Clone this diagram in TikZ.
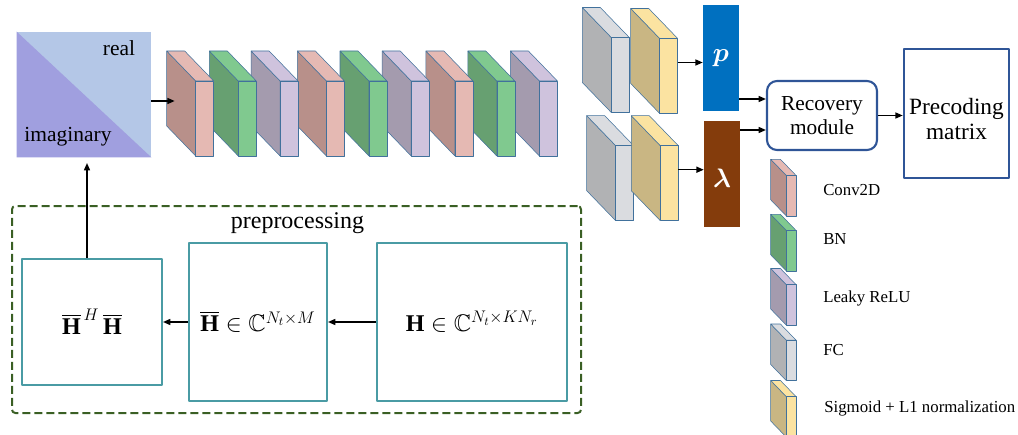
\RequirePackage{fix-cm}
\documentclass[tikz,border=0pt]{standalone}
\usepackage{amsmath,amssymb,bm}
\usepackage{fontspec}
\setmainfont{Liberation Serif}
\usetikzlibrary{arrows.meta,calc}
\definecolor{edge}{HTML}{41719C}
\definecolor{convS}{HTML}{B8908A}
\definecolor{convF}{HTML}{E5B9B3}
\definecolor{bnS}{HTML}{67A071}
\definecolor{bnF}{HTML}{80C98F}
\definecolor{reluS}{HTML}{A49BAE}
\definecolor{reluF}{HTML}{CFC3DD}
\definecolor{fcS}{HTML}{B1B2B4}
\definecolor{fcF}{HTML}{DADCE0}
\definecolor{sigS}{HTML}{C9B683}
\definecolor{sigF}{HTML}{FBE3A1}
\definecolor{realC}{HTML}{B4C7E7}
\definecolor{imagC}{HTML}{A09FDF}
\definecolor{tealC}{HTML}{4A9BA4}
\definecolor{dashC}{HTML}{3A5F24}
\definecolor{navyC}{HTML}{2F5597}
\definecolor{pC}{HTML}{0070C0}
\definecolor{lC}{HTML}{843C0C}
\newcommand{\slab}[6]{%
\begin{scope}[shift={(#2,#3)},scale=#6]
\filldraw[draw=edge,fill=#4] (0,0) -- (29,30) -- (29,105) -- (0,75) -- cycle;
\filldraw[draw=edge,fill=#5] (0,0) -- (18,0) -- (47,30) -- (29,30) -- cycle;
\filldraw[draw=edge,fill=#5] (29,30) rectangle (47,105);
\coordinate (#1-in) at (8,50);
\coordinate (#1-out) at (47,54);
\end{scope}}
\tikzset{
 arr/.style={line width=1.1pt,-{Triangle[length=5.5pt,width=4.5pt]}},
 tealbox/.style={draw=tealC,line width=1.5pt,inner sep=0pt},
 mathtxt/.style={font=\fontsize{18}{20}\selectfont},
 legtxt/.style={anchor=west,font=\fontsize{12.6}{14}\selectfont,inner sep=0pt},
 navybox/.style={draw=navyC,line width=1.6pt,align=center,inner sep=0pt},
 outbox/.style={inner sep=0pt,text=white,font=\fontsize{20}{22}\selectfont}
}
\begin{document}
\begin{tikzpicture}[x=0.75pt,y=-0.75pt,line join=round]
\useasboundingbox (0,0) rectangle (1018,435);
% input square
\node[inner sep=0pt,minimum width=100.5pt,minimum height=93.75pt,fill=realC] (sq) at (84,94.5) {};
\fill[imagC] (sq.north west) -- (sq.south east) -- (sq.south west) -- cycle;
\node[font=\fontsize{16.1}{18}\selectfont] (real) at (119,48) {real};
\node[font=\fontsize{16.1}{18}\selectfont] (imag) at (68,137) {imaginary};
% main layers (right to left)
\slab{L9}{510.4}{51}{reluS}{reluF}{1}
\slab{L8}{467.8}{51}{bnS}{bnF}{1}
\slab{L7}{425.9}{51}{convS}{convF}{1}
\slab{L6}{382.2}{51}{reluS}{reluF}{1}
\slab{L5}{340}{51}{bnS}{bnF}{1}
\slab{L4}{297.4}{51}{convS}{convF}{1}
\slab{L3}{251.1}{51}{reluS}{reluF}{1}
\slab{L2}{209.3}{51}{bnS}{bnF}{1}
\slab{L1}{166.7}{51}{convS}{convF}{1}
\draw[arr] (sq.east |- L1-in) -- (L1-in);
% heads
\slab{FCu}{582.3}{7.5}{fcS}{fcF}{1}
\slab{SGu}{630.7}{8.5}{sigS}{sigF}{1}
\slab{FCl}{586.7}{115.7}{fcS}{fcF}{1}
\slab{SGl}{631.3}{115.7}{sigS}{sigF}{1}
\node[outbox,fill=pC,minimum width=27pt,minimum height=79.5pt] (pbox) at (721,58) {$\bm{p}$};
\node[outbox,fill=lC,minimum width=27pt,minimum height=79.5pt] (lbox) at (722,174) {};
\node[outbox] (lsym) at (722,178) {$\bm{\lambda}$};
\draw[arr] (SGu-out) -- (SGu-out -| pbox.west);
\draw[arr] (SGl-out) -- (SGl-out -| lbox.west);
\node[navybox,rounded corners=7.5pt,minimum width=82.5pt,minimum height=51.75pt,font=\fontsize{16}{18}\selectfont] (rec) at (822,115.5) {Recovery\\module};
\node[navybox,line width=1.9pt,minimum width=78.75pt,minimum height=96.75pt] (prec) at (956.5,113.5) {};
\node[align=center,inner sep=0pt,font=\fontsize{17.5}{19}\selectfont] (prectxt) at (956.5,119) {Precoding\\matrix};
\draw[arr] (pbox.east |- 0,99) -- (rec.west |- 0,99);
\draw[arr] (lbox.east |- 0,130) -- (rec.west |- 0,130);
\draw[arr] (rec.east) -- (prec.west |- rec.east);
% legend
\slab{lg1}{770.7}{159.3}{convS}{convF}{0.54}
\slab{lg2}{770.7}{214.3}{bnS}{bnF}{0.54}
\slab{lg3}{770.7}{268.5}{reluS}{reluF}{0.54}
\slab{lg4}{770.7}{324}{fcS}{fcF}{0.54}
\slab{lg5}{770.7}{380.5}{sigS}{sigF}{0.54}
\node[legtxt] (t1) at (823,190) {Conv2D};
\node[legtxt] (t2) at (823,239) {BN};
\node[legtxt] (t3) at (823,298) {Leaky ReLU};
\node[legtxt] (t4) at (823,350) {FC};
\node[legtxt] (t5) at (824,408) {Sigmoid + L1 normalization};
% preprocessing
\node[draw=dashC,line width=1.5pt,dash pattern=on 6pt off 3pt,rounded corners=2.5pt,minimum width=426.75pt,minimum height=155.25pt,inner sep=0pt] (pre) at (296.5,309.5) {};
\node[font=\fontsize{18}{20}\selectfont] (pretxt) at (297.5,223) {preprocessing};
\node[tealbox,minimum width=105pt,minimum height=94.5pt,mathtxt] (box1) at (92,322) {$\overline{\mathbf{H}}^{\,H}\,\overline{\mathbf{H}}$};
\node[tealbox,minimum width=103.5pt,minimum height=118.5pt,mathtxt] (box2) at (258,322) {$\overline{\mathbf{H}}\in\mathbb{C}^{N_t\times M}$};
\node[tealbox,minimum width=142.5pt,minimum height=118.5pt,mathtxt] (box3) at (472,322) {$\mathbf{H}\in\mathbb{C}^{N_t\times KN_r}$};
\draw[arr] (box3.west) -- (box2.east);
\draw[arr] (box2.west) -- (box1.east);
\coordinate (upend) at (87,163);
\draw[arr] (box1.north -| upend) -- (upend);
\end{tikzpicture}
\end{document}
